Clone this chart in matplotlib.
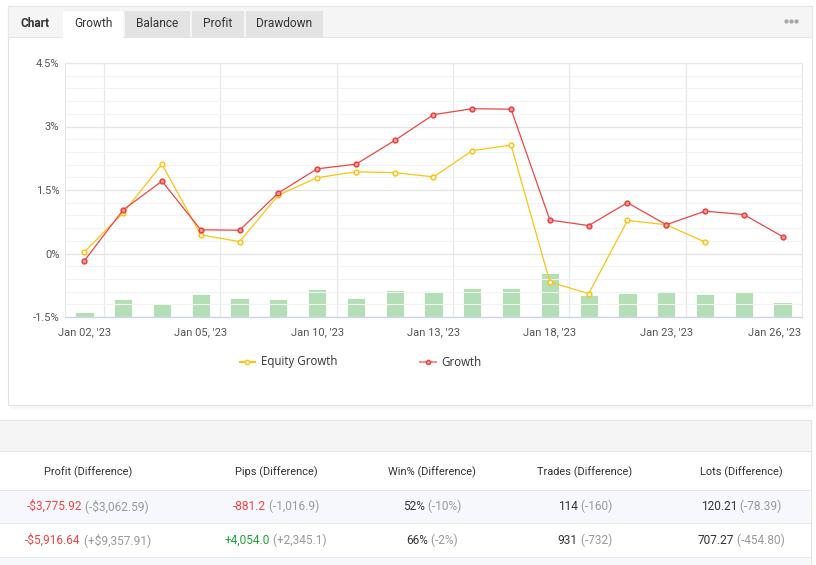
import numpy as np
import matplotlib.pyplot as plt
from matplotlib.patches import Rectangle
from matplotlib.lines import Line2D
from matplotlib.transforms import ScaledTranslation

W, H = 816, 565

# trading days shown in the chart
dates = ["Jan 02", "Jan 03", "Jan 04", "Jan 05", "Jan 06", "Jan 09", "Jan 10",
         "Jan 11", "Jan 12", "Jan 13", "Jan 16", "Jan 17", "Jan 18", "Jan 19",
         "Jan 20", "Jan 23", "Jan 24", "Jan 25", "Jan 26"]
label_idx = [0, 3, 6, 9, 12, 15, 18]

growth = [-0.17, 1.03, 1.71, 0.56, 0.55, 1.43, 2.00, 2.11, 2.67, 3.28,
          3.42, 3.41, 0.79, 0.66, 1.20, 0.68, 1.00, 0.92, 0.40]
equity_growth = [0.04, 0.96, 2.11, 0.44, 0.28, 1.38, 1.79, 1.93, 1.91, 1.81,
                 2.43, 2.56, -0.67, -0.95, 0.78, 0.68, 0.27, np.nan, np.nan]
# daily activity bars (relative units)
activity = [1.9, 7.1, 5.0, 8.9, 7.4, 7.0, 11.0, 7.4, 10.6, 10.1,
            11.3, 11.3, 17.2, 8.5, 9.3, 10.1, 8.9, 9.7, 5.8]

yticks = [-1.5, 0, 1.5, 3, 4.5]
ytick_labels = ["-1.5%", "0%", "1.5%", "3%", "4.5%"]

tabs = ["Growth", "Balance", "Profit", "Drawdown"]
tab_x = [(63, 123), (125, 190), (192, 244), (246, 323)]

columns = ["Profit (Difference)", "Pips (Difference)", "Win% (Difference)",
           "Trades (Difference)", "Lots (Difference)"]
col_x = [88, 276, 432, 585, 741]
row1 = [("-$3,775.92", " (-$3,062.59)", "red"), ("-881.2", " (-1,016.9)", "red"),
        ("52%", " (-10%)", "dark"), ("114", " (-160)", "dark"),
        ("120.21", " (-78.39)", "dark")]
row2 = [("-$5,916.64", " (+$9,357.91)", "red"), ("+4,054.0", " (+2,345.1)", "green"),
        ("66%", " (-2%)", "dark"), ("931", " (-732)", "dark"),
        ("707.27", " (-454.80)", "dark")]
colors = {"red": "#f04545", "green": "#1ea33a", "dark": "#333333"}

plt.rcParams['font.family'] = ['Roboto', 'DejaVu Sans']

fig = plt.figure(figsize=(W / 100, H / 100), dpi=100)
fig.patch.set_facecolor('white')


def fx(x):
    return x / W


def fy(y):
    return 1 - y / H


def rect(x0, y0, x1, y1, fc, ec='none', lw=0.8, z=0, alpha=None):
    fig.add_artist(Rectangle((fx(x0), fy(y1)), fx(x1) - fx(x0), fy(y0) - fy(y1),
                             transform=fig.transFigure, facecolor=fc,
                             edgecolor=ec, linewidth=lw, zorder=z, alpha=alpha))


def hline(x0, x1, y, c, lw=0.8, z=1):
    fig.add_artist(Line2D([fx(x0), fx(x1)], [fy(y), fy(y)], transform=fig.transFigure,
                          color=c, linewidth=lw, zorder=z))


# chart card with a soft shadow
for i, a in enumerate([0.10, 0.06, 0.03]):
    rect(10 + i, 406 + i, 813 + i, 408 + i, fc='#c8c8d8', z=-2, alpha=a)
rect(8, 6, 812, 405, fc='white', ec='#e2e2e2', z=-1)
rect(8, 6, 812, 37, fc='#f5f5f5', ec='#e6e6e6', z=0)
fig.text(fx(35), fy(23.5), "Chart", fontsize=8.6, fontweight='bold', color='#333333',
         ha='center', va='center')
for name, (x0, x1) in zip(tabs, tab_x):
    active = name == "Growth"
    rect(x0, 11, x1, 37.5, fc='white' if active else '#e3e3e3', z=1)
    fig.text(fx((x0 + x1) / 2), fy(23.5), name, fontsize=8.6, color='#333333',
             ha='center', va='center', zorder=2)
fig.add_artist(Line2D([fx(785.5), fx(790.5), fx(795.5)], [fy(21)] * 3,
                      transform=fig.transFigure, linestyle='none', marker='o',
                      markersize=3.1, markeredgewidth=0, color='#a8a8a8'))

# plot area
ax = fig.add_axes([fx(65), fy(317), fx(802) - fx(65), fy(63) - fy(317)])
axb = ax.twinx()
ax.set_zorder(axb.get_zorder() + 1)
ax.patch.set_visible(False)

x = np.arange(len(dates))
axb.bar(x, activity, width=0.47, color='#b4dfb6', edgecolor='white', linewidth=0.6)
axb.set_ylim(0, 100)
axb.set_yticks([])
for s in axb.spines.values():
    s.set_visible(False)

ax.set_xlim(-0.5, len(dates) - 0.5)
ax.set_ylim(-1.5, 4.5)
ax.set_yticks(yticks)
ax.set_yticklabels(ytick_labels)
ax.set_yticks(np.arange(-1.5, 4.51, 0.3), minor=True)
ax.grid(axis='y', which='minor', color='#f2f2f2', linewidth=0.8)
ax.grid(axis='y', which='major', color='#e4e4e4', linewidth=0.9)
for i in label_idx[:-1]:
    ax.axvline(i + 0.5, color='#e8e8e8', linewidth=0.9, zorder=0)
ax.set_xticks(label_idx)
ax.set_xticklabels([dates[i] + ", '23" for i in label_idx])
ax.tick_params(axis='both', which='both', length=0, labelsize=8, colors='#555555')
ax.tick_params(axis='x', pad=7)
ax.tick_params(axis='y', pad=4)
# keep the last date label inside the plot, right-aligned to its edge
last = ax.get_xticklabels()[-1]
last.set_ha('right')
last.set_transform(last.get_transform() + ScaledTranslation(0.19, 0, fig.dpi_scale_trans))
for side in ['top', 'left', 'right']:
    ax.spines[side].set_color('#e6e6e6')
    ax.spines[side].set_linewidth(0.8)
ax.spines['bottom'].set_color('#ccd6eb')
ax.spines['bottom'].set_linewidth(1.0)

ax.plot(x, equity_growth, color='#fbc412', linewidth=0.9, marker='o', markersize=3.4,
        markerfacecolor='white', markeredgecolor='#fbc412', markeredgewidth=1.1, zorder=3)
ax.plot(x, growth, color='#ed4646', linewidth=0.9, marker='o', markersize=3.4,
        markerfacecolor='#f7a0a0', markeredgecolor='#ea4040', markeredgewidth=1.1, zorder=4)

# legend
for lx, txt, c, mc, fc in [(247.5, "Equity Growth", '#fbc412', '#fbc412', 'white'),
                           (428, "Growth", '#f49090', '#ea4040', '#f7a0a0')]:
    fig.add_artist(Line2D([fx(lx - 7.5), fx(lx + 7.5)], [fy(362), fy(362)],
                          transform=fig.transFigure, color=c, linewidth=1.5))
    fig.add_artist(Line2D([fx(lx)], [fy(362)], transform=fig.transFigure, marker='o',
                          markersize=3.0, markerfacecolor=fc, markeredgecolor=mc,
                          markeredgewidth=1))
    fig.text(fx(lx + 13.5), fy(362), txt, fontsize=8.3, color='#333333', ha='left',
             va='center', family=['Open Sans', 'DejaVu Sans'])

# statistics table
rect(-2, 420, 811, 565, fc='white', ec='#e2e2e2', z=-1)
rect(-2, 420, 811, 451, fc='#f5f5f5', ec='#e6e6e6', z=0)
rect(-2, 490, 810, 523, fc='#f7f8fc', z=0)
rect(-2, 557, 810, 566, fc='#f7f8fc', z=0)
for yy in [490, 523, 557]:
    hline(0, 810, yy, '#e6e8ee')

for name, cx in zip(columns, col_x):
    fig.text(fx(cx), fy(472), name, fontsize=7.9, color='#333333', ha='center', va='center')

renderer = fig.canvas.get_renderer()
for row, yy in [(row1, 506.5), (row2, 540)]:
    for (main, diff, ck), cx in zip(row, col_x):
        t1 = fig.text(0, fy(yy), main, fontsize=8.6, color=colors[ck], ha='left', va='center')
        t2 = fig.text(0, fy(yy), diff, fontsize=8.6, color='#999999', ha='left', va='center')
        w1 = t1.get_window_extent(renderer).width
        w2 = t2.get_window_extent(renderer).width
        x0 = cx - (w1 + w2) / 2
        t1.set_x(fx(x0))
        t2.set_x(fx(x0 + w1))

fig.savefig('out.png', dpi=100)
